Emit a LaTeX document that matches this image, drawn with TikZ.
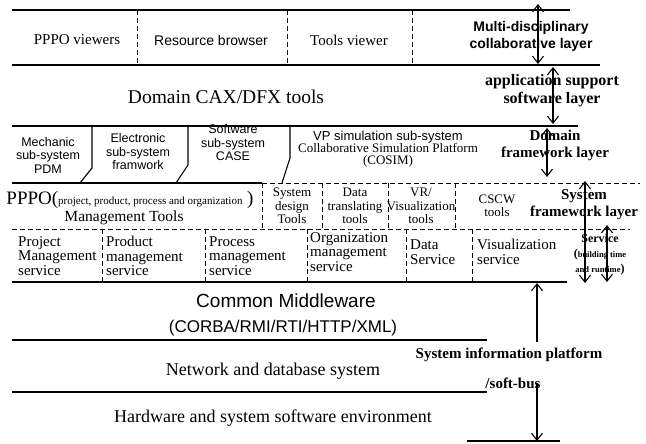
\documentclass[tikz,border=0pt]{standalone}
\usepackage{fontspec}
\setmainfont{Liberation Serif}
\setsansfont{Liberation Sans}
\usetikzlibrary{arrows.meta}

\begin{document}
\begin{tikzpicture}[x=1pt,y=-1pt,
  >={Straight Barb[length=7pt,width=11pt]},
  rule/.style={line width=1.1pt},
  dline/.style={line width=1pt, dash pattern=on 5pt off 3pt},
  lyr/.style={<->, line width=1.1pt},
  lbl/.style={inner sep=0pt, align=center},
  cell/.style={lbl, font=\fontsize{15}{14.5}\selectfont},
  sub/.style={lbl, font=\sffamily\fontsize{12.5}{13.5}\selectfont},
  tool/.style={lbl, font=\fontsize{13}{13.5}\selectfont},
  big/.style={lbl, font=\fontsize{18}{18}\selectfont},
  side/.style={lbl, font=\bfseries\fontsize{15}{17}\selectfont}]
\useasboundingbox (0,0) rectangle (646,444);

% layer rules
\foreach \y/\xe in {10/570, 65/600, 126/578, 282/567, 340/487, 392/487}
  \draw[rule] (12,\y) -- (\xe,\y);
\draw[rule] (12,183) -- (262,183);
\draw[dline] (262,183) -- (640,183);
\draw[dline] (12,229) -- (630,229);
\draw[rule] (467,441) -- (560,441);

% separators
\foreach \x in {137,287,412}
  \draw[dline] (\x,10) -- (\x,65);
\foreach \x/\y/\s in {92/168/80, 188/165/176, 290/158/282}
  \draw[rule] (\x,126) -- (\x,\y) -- (\s,183);
\foreach \x in {262,322,388,455}
  \draw[dline] (\x,183) -- (\x,229);
\foreach \x in {102,205,307,406,472}
  \draw[dline] (\x,229) -- (\x,282);

% multi-disciplinary collaborative layer
\node[cell] (ppv) at (77,40) {PPPO viewers};
\node[lbl, font=\sffamily\fontsize{14}{14}\selectfont] (rsb) at (211,40) {Resource browser};
\node[cell] (tlv) at (349,40) {Tools viewer};
\node[lbl, font=\sffamily\bfseries\fontsize{14}{17}\selectfont] (mcl) at (531,36) {Multi-disciplinary\\collaborative layer};

% application support software layer
\node[lbl, font=\fontsize{19.5}{20}\selectfont] (cax) at (226,97) {Domain CAX/DFX tools};
\node[lbl, font=\bfseries\fontsize{16}{18}\selectfont] (asl) at (552,91) {application support\\software layer};

% domain framework layer
\node[sub] (mec) at (48,155) {Mechanic\\sub-system\\PDM};
\node[sub] (elc) at (138,152) {Electronic\\sub-system\\framwork};
\node[sub] (sws) at (233,143) {Software\\sub-system\\CASE};
\node[lbl] (vps) at (388,149) {{\sffamily\fontsize{13}{15}\selectfont VP simulation sub-system}\\
  {\fontsize{13}{15}\selectfont Collaborative Simulation Platform}\\
  {\fontsize{13}{15}\selectfont (COSIM)}};
\node[side] (dfl) at (555,145) {Domain\\framework layer};

% system framework layer
\node[lbl, font=\fontsize{19}{19}\selectfont] (ppp) at (130,200)
  {PPPO({\fontsize{11}{11}\selectfont project, product, process and organization} )};
\node[lbl, font=\fontsize{15.5}{15.5}\selectfont] (mgt) at (124,218) {Management Tools};
\node[tool] (sdt) at (292,206) {System\\design\\Tools};
\node[tool] (dtt) at (355,206) {Data\\translating\\tools};
\node[tool] (vrt) at (421,206) {VR/\\Visualization\\tools};
\node[tool] (csc) at (497,206) {CSCW\\tools};
\node[side] (sfl) at (584,205) {System\\framework layer};

% services
\node[cell, align=left, anchor=west] (pjs) at (18,256) {Project\\Management\\service};
\node[cell, align=left, anchor=west] (pds) at (106,256) {Product\\management\\service};
\node[cell, align=left, anchor=west] (pcs) at (209,256) {Process\\management\\service};
\node[cell, align=left, anchor=west] (ogs) at (310,252) {Organization\\management\\service};
\node[cell, align=left, anchor=west] (dts) at (410,252) {Data\\Service};
\node[cell, align=left, anchor=west] (vss) at (477,252) {Visualization\\service};
\node[lbl, font=\bfseries\fontsize{12}{15}\selectfont] (svc) at (600,255)
  {Service\\({\fontsize{8.5}{15}\selectfont building time}\\{\fontsize{8.5}{15}\selectfont and runtime})};

% system information platform / soft-bus
\node[lbl, font=\sffamily\fontsize{19}{19}\selectfont] (cmw) at (286,301) {Common Middleware};
\node[lbl, font=\sffamily\fontsize{17}{17}\selectfont] (crb) at (283,328) {(CORBA/RMI/RTI/HTTP/XML)};
\node[big] (ndb) at (273,371) {Network and database system};
\node[big] (hws) at (273,418) {Hardware and system software environment};
\node[lbl, font=\bfseries\fontsize{15}{15}\selectfont] (sip) at (509,355) {System information platform};
\node[lbl, font=\bfseries\fontsize{15}{15}\selectfont] (sbs) at (513,383) {/soft-bus};

% layer arrows
\coordinate (a1t) at (538,4);   \coordinate (a1b) at (538,64);
\coordinate (a2t) at (553,67);  \coordinate (a2b) at (553,124);
\coordinate (a3t) at (547,128); \coordinate (a3b) at (547,177);
\coordinate (a4t) at (585,181); \coordinate (a4b) at (585,283);
\coordinate (a5t) at (607,225); \coordinate (a5b) at (607,282);
\coordinate (a6t) at (537,283); \coordinate (a6b) at (537,342);
\coordinate (a7t) at (537,383); \coordinate (a7b) at (537,441);
\foreach \a in {a1,a2,a3,a4,a5}
  \draw[lyr] (\a t) -- (\a b);
\draw[->, line width=1.1pt] (a6b) -- (a6t);
\draw[->, line width=1.1pt] (a7t) -- (a7b);
\end{tikzpicture}
\end{document}
